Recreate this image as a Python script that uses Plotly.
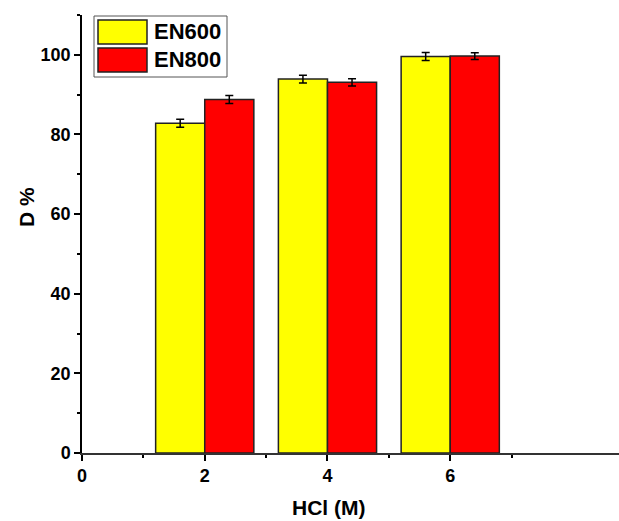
import plotly.graph_objects as go

# HCl concentration (M) and extraction percentage for each sorbent
hcl = [2, 4, 6]
en600 = [82.8, 93.9, 99.6]
en600_err = [1.0, 1.0, 1.0]
en800 = [88.8, 93.1, 99.7]
en800_err = [1.0, 0.9, 0.85]

series_names = ["EN600", "EN800"]
series_colors = ["#FFFF00", "#FF0000"]

FONT = "Liberation Sans, Arial, sans-serif"

fig = go.Figure()
for name, vals, errs, color, off in [
    (series_names[0], en600, en600_err, series_colors[0], -0.8),
    (series_names[1], en800, en800_err, series_colors[1], 0.0),
]:
    fig.add_trace(go.Bar(
        x=hcl, y=vals, name=name, width=0.8, offset=off,
        marker=dict(color=color, line=dict(color="#222222", width=1.5)),
        error_y=dict(type="data", array=errs, visible=True, color="black",
                     thickness=1.5, width=4),
        showlegend=False,
    ))

# Legend box drawn with shapes for large swatches
lx0, lx1, ly0, ly1 = 94, 227, 16, 77
W, H = 619, 521
ml, mr, mt, mb = 82, 0, 15, 68
pw, ph = W - ml - mr, H - mt - mb

def px(x):
    return (x - ml) / pw

def py(y):
    return 1 - (y - mt) / ph

shapes = [dict(type="rect", xref="paper", yref="paper",
               x0=px(lx0), x1=px(lx1), y0=py(ly1), y1=py(ly0),
               line=dict(color="#555555", width=1), fillcolor="white", layer="above")]
annotations = []
for i, (name, color) in enumerate(zip(series_names, series_colors)):
    top = 20 + i * 28
    shapes.append(dict(type="rect", xref="paper", yref="paper",
                       x0=px(98), x1=px(147), y0=py(top + 24), y1=py(top),
                       line=dict(color="#222222", width=1.5), fillcolor=color, layer="above"))
    annotations.append(dict(xref="paper", yref="paper", x=px(152), y=py(top + 12),
                            text="<b>%s</b>" % name, showarrow=False, xanchor="left",
                            yanchor="middle", font=dict(family=FONT, size=22, color="black")))

annotations.append(dict(xref="paper", yref="paper", x=px(328), y=py(508),
                        text="<b>HCl (M)</b>", showarrow=False, xanchor="center",
                        yanchor="middle", font=dict(family=FONT, size=21, color="black")))
annotations.append(dict(xref="paper", yref="paper", x=px(26), y=py(207),
                        text="<b>D %</b>", showarrow=False, textangle=-90,
                        xanchor="center", yanchor="middle",
                        font=dict(family=FONT, size=21, color="black")))

fig.update_layout(
    width=W, height=H,
    margin=dict(l=ml, r=mr, t=mt, b=mb),
    paper_bgcolor="white", plot_bgcolor="white",
    barmode="overlay",
    shapes=shapes, annotations=annotations,
    font=dict(family=FONT, size=18, color="black"),
    xaxis=dict(range=[0, 8.75], tickvals=[0, 2, 4, 6], ticktext=["<b>0</b>", "<b>2</b>", "<b>4</b>", "<b>6</b>"],
               ticks="outside", ticklen=6, tickwidth=1.5, tickcolor="black",
               showline=True, linecolor="#333333", linewidth=1.5, showgrid=False, zeroline=False,
               minor=dict(tickvals=[1, 3, 5, 7], ticks="outside", ticklen=3, tickwidth=1.5, tickcolor="black"),
               tickfont=dict(family=FONT, size=18)),
    yaxis=dict(range=[0, 110], tickvals=[0, 20, 40, 60, 80, 100],
               ticktext=["<b>%d</b>" % v for v in [0, 20, 40, 60, 80, 100]],
               ticks="outside", ticklen=6, tickwidth=1.5, tickcolor="black",
               showline=True, linecolor="black", linewidth=1.5, showgrid=False, zeroline=False,
               minor=dict(tickvals=[10, 30, 50, 70, 90, 110], ticks="outside", ticklen=3, tickwidth=1.5, tickcolor="black"),
               tickfont=dict(family=FONT, size=18)),
)

fig.write_html("out.html")
